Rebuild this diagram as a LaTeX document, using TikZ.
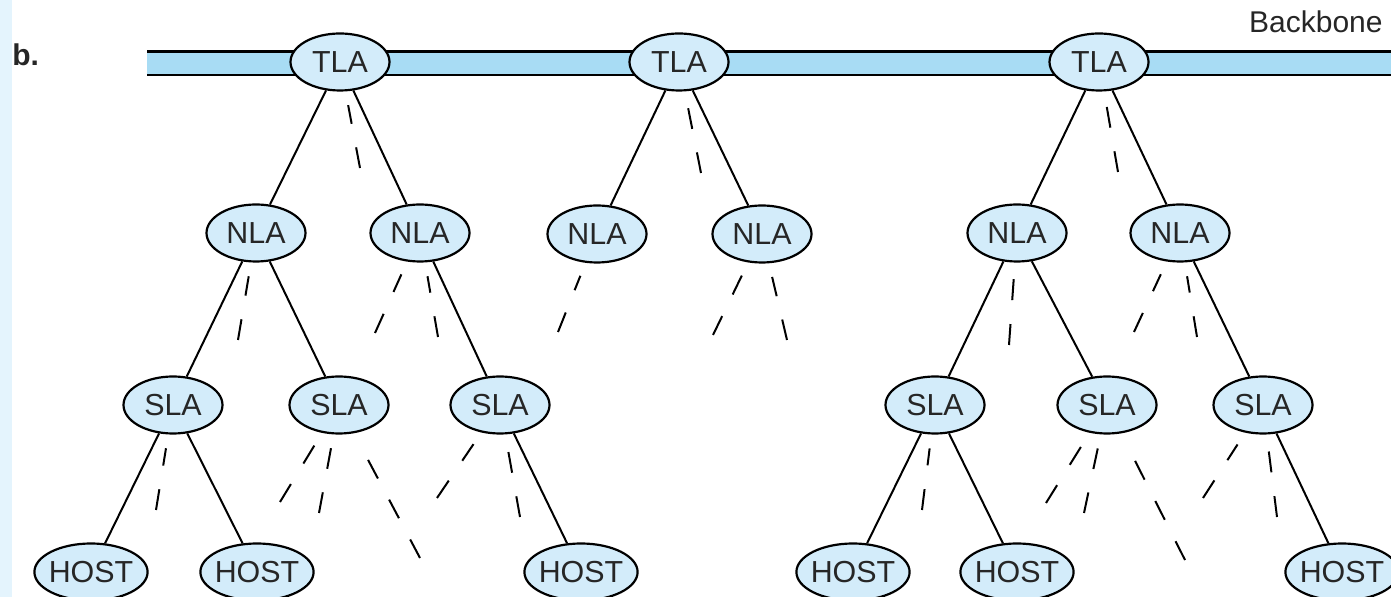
\documentclass[tikz,border=0pt]{standalone}
\usepackage{fontspec}
\setmainfont{Liberation Sans}
\usetikzlibrary{shapes.geometric}
\definecolor{nodeblue}{HTML}{D3ECFA}
\definecolor{bandblue}{HTML}{A8DCF4}
\definecolor{stripblue}{HTML}{E4F4FD}
\definecolor{inkgray}{HTML}{262626}

\begin{document}
\begin{tikzpicture}[x=0.5pt, y=-0.5pt,
  addr/.style={ellipse, draw, line width=1.1pt, fill=nodeblue, minimum width=49.5pt,
    minimum height=28.5pt, inner sep=0pt, text=inkgray, font=\fontsize{15.2}{18}\selectfont},
  host/.style={addr, inner xsep=-1.1pt},
  link/.style={line width=1pt},
  stub/.style={line width=1pt, dash pattern=on 10.5pt off 12pt, shorten >=7pt}]
  \useasboundingbox (0,0) rectangle (1391,597);
  \fill[stripblue] (0,0) rectangle (12,597);

  % backbone
  \fill[bandblue] (147,52) rectangle (1391,75);
  \draw[line width=1.5pt] (147,52) -- (1391,52);
  \draw[line width=1.3pt] (147,75) -- (1391,75);
  \node[anchor=base east, inner sep=0pt, text=inkgray, font=\fontsize{15}{17}\selectfont] (bblabel) at (1383,33) {Backbone};
  \node[anchor=base west, inner sep=0pt, text=inkgray, font=\bfseries\fontsize{15}{17}\selectfont] (part) at (12,66) {b.};

  \node[addr] (tla1) at (340,62) {TLA};
  \node[addr] (tla2) at (679,62) {TLA};
  \node[addr] (tla3) at (1099,62) {TLA};

  \node[addr] (nla1) at (256,233) {NLA};
  \node[addr] (nla2) at (420,233) {NLA};
  \node[addr] (nla3) at (597,234) {NLA};
  \node[addr] (nla4) at (762,234) {NLA};
  \node[addr] (nla5) at (1017,233) {NLA};
  \node[addr] (nla6) at (1180,233) {NLA};

  \node[addr] (sla1) at (173,405) {SLA};
  \node[addr] (sla2) at (339,405) {SLA};
  \node[addr] (sla3) at (500,405) {SLA};
  \node[addr] (sla4) at (935,405) {SLA};
  \node[addr] (sla5) at (1107,405) {SLA};
  \node[addr] (sla6) at (1263,405) {SLA};

  \node[host] (host1) at (91,572) {HOST};
  \node[host] (host2) at (257,572) {HOST};
  \node[host] (host3) at (581,572) {HOST};
  \node[host] (host4) at (853,572) {HOST};
  \node[host] (host5) at (1017,572) {HOST};
  \node[host] (host6) at (1342,572) {HOST};

  \foreach \a/\b in {tla1/nla1, tla1/nla2, tla2/nla3, tla2/nla4, tla3/nla5, tla3/nla6,
      nla1/sla1, nla1/sla2, nla2/sla3, nla5/sla4, nla5/sla5, nla6/sla6,
      sla1/host1, sla1/host2, sla3/host3, sla4/host4, sla4/host5, sla6/host6}
    \draw[link] (\a) -- (\b);

  % loose ends of the dashed links
  \coordinate (t1s) at (360,168);
  \coordinate (t2s) at (701,173);
  \coordinate (t3s) at (1118,172);
  \coordinate (n1s) at (238,340);
  \coordinate (n2a) at (375,333);
  \coordinate (n2b) at (438,337);
  \coordinate (n3s) at (558,332);
  \coordinate (n4a) at (713,335);
  \coordinate (n4b) at (787,340);
  \coordinate (n5s) at (1009,345);
  \coordinate (n6a) at (1134,332);
  \coordinate (n6b) at (1197,337);
  \coordinate (s1s) at (156,510);
  \coordinate (s2a) at (280,502);
  \coordinate (s2b) at (319,513);
  \coordinate (s2c) at (420,558);
  \coordinate (s3a) at (437,498);
  \coordinate (s3b) at (520,517);
  \coordinate (s4s) at (922,510);
  \coordinate (s5a) at (1046,503);
  \coordinate (s5b) at (1084,513);
  \coordinate (s5c) at (1185,560);
  \coordinate (s6a) at (1203,498);
  \coordinate (s6b) at (1277,517);

  \foreach \e/\n in {t1s/tla1, t2s/tla2, t3s/tla3, n1s/nla1, n2a/nla2, n2b/nla2,
      n3s/nla3, n4a/nla4, n4b/nla4, n5s/nla5, n6a/nla6, n6b/nla6,
      s1s/sla1, s2a/sla2, s2b/sla2, s2c/sla2, s3a/sla3, s3b/sla3, s4s/sla4,
      s5a/sla5, s5b/sla5, s5c/sla5, s6a/sla6, s6b/sla6}
    \draw[stub] (\e) -- (\n);
\end{tikzpicture}
\end{document}
